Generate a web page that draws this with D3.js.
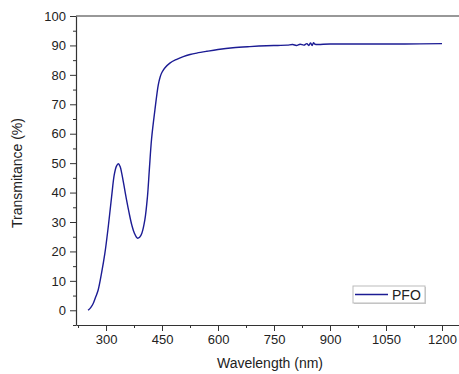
<!DOCTYPE html>
<html>
<head>
<meta charset="utf-8" />
<title>PFO transmittance</title>
<script src="https://d3js.org/d3.v7.min.js"></script>
<style>
  body { margin: 0; background: #fff; }
  svg { display: block; font-family: "Liberation Sans", Arial, sans-serif; }
</style>
</head>
<body>
<svg id="chart" width="459" height="374"></svg>
<script>
// values
var wavelength = [252, 259, 266, 272, 279, 288, 297, 306, 315, 322, 328, 333, 338, 342, 348, 355, 362, 369, 376, 384, 390, 396, 404, 411, 416, 422, 431, 440, 445, 450, 458, 471, 488, 507, 525, 543, 570, 600, 640, 685, 730, 760, 785, 800, 810, 820, 830, 838, 843, 848, 852, 856, 860, 900, 1000, 1100, 1200];
var transmittance = [0, 0.9, 2.4, 4.4, 6.9, 12.6, 19.4, 28.4, 38.6, 46, 49, 49.8, 48.8, 46.6, 42.5, 37.5, 33, 29, 26.2, 24.5, 24.8, 26.2, 30.7, 38.6, 47.7, 58.2, 68.1, 76.6, 79.3, 80.9, 82.4, 84, 85.2, 86.2, 86.9, 87.4, 88, 88.6, 89.2, 89.6, 89.9, 90.0, 90.1, 90.3, 90.0, 90.4, 90.1, 90.6, 90.0, 90.8, 90.0, 90.9, 90.4, 90.5, 90.5, 90.5, 90.6];
var xTicks = [300, 450, 600, 750, 900, 1050, 1200];
var yTicks = [0, 10, 20, 30, 40, 50, 60, 70, 80, 90, 100];
var seriesName = "PFO";

var svg = d3.select("#chart");
var mLeft = 76, mTop = 16, mRight = 459, mBottom = 325;

var x = d3.scaleLinear().domain([219.6, 1245.5]).range([mLeft, mRight]);
var y = d3.scaleLinear().domain([-5, 100]).range([mBottom, mTop]);

var axisColor = "#333";

// minor ticks first, major on top
var xMinor = d3.range(225, 1245, 75).filter(function(d) { return xTicks.indexOf(d) < 0; });
var yMinor = d3.range(-5, 100, 5).filter(function(d) { return yTicks.indexOf(d) < 0; });

svg.append("g")
  .attr("transform", "translate(0," + mBottom + ")")
  .call(d3.axisBottom(x).tickValues(xMinor).tickSize(3).tickFormat(""))
  .call(function(g) { g.select(".domain").remove(); g.selectAll("line").attr("stroke", axisColor); });

svg.append("g")
  .attr("transform", "translate(" + mLeft + ",0)")
  .call(d3.axisLeft(y).tickValues(yMinor).tickSize(3).tickFormat(""))
  .call(function(g) { g.select(".domain").remove(); g.selectAll("line").attr("stroke", axisColor); });

var xAxis = svg.append("g")
  .attr("transform", "translate(0," + mBottom + ")")
  .call(d3.axisBottom(x).tickValues(xTicks).tickFormat(d3.format("d")).tickSize(6).tickPadding(4).tickSizeOuter(0));
xAxis.select(".domain").attr("stroke", axisColor).attr("stroke-width", 1.2);
xAxis.selectAll("line").attr("stroke", axisColor);
xAxis.selectAll("text").attr("font-size", 13).attr("fill", "#222").attr("font-family", null);

var yAxis = svg.append("g")
  .attr("transform", "translate(" + mLeft + ",0)")
  .call(d3.axisLeft(y).tickValues(yTicks).tickSize(6).tickPadding(4).tickSizeOuter(0));
yAxis.select(".domain").attr("stroke", axisColor).attr("stroke-width", 1.2);
yAxis.selectAll("line").attr("stroke", axisColor);
yAxis.selectAll("text").attr("font-size", 13).attr("fill", "#222").attr("font-family", null);

// top frame line
svg.append("line")
  .attr("x1", mLeft).attr("x2", mRight)
  .attr("y1", mTop).attr("y2", mTop)
  .attr("stroke", axisColor).attr("stroke-width", 1.2);

// axis titles
svg.append("text")
  .attr("x", 270).attr("y", 368)
  .attr("text-anchor", "middle")
  .attr("font-size", 14).attr("fill", "#222")
  .text("Wavelength (nm)");

svg.append("text")
  .attr("transform", "translate(22,173) rotate(-90)")
  .attr("text-anchor", "middle")
  .attr("font-size", 14).attr("fill", "#222")
  .text("Transmitance (%)");

// the curve
var pts = wavelength.map(function(w, i) { return [w, transmittance[i]]; });
var line = d3.line()
  .x(function(d) { return x(d[0]); })
  .y(function(d) { return y(d[1]); })
  .curve(d3.curveCatmullRom.alpha(0.5));

svg.append("path")
  .datum(pts)
  .attr("d", line)
  .attr("fill", "none")
  .attr("stroke", "#1c1c94")
  .attr("stroke-width", 1.4);

// legend
var lg = svg.append("g").attr("transform", "translate(353,286)");
lg.append("rect")
  .attr("x", 1).attr("y", 1).attr("width", 72).attr("height", 17)
  .attr("fill", "#ccc");
lg.append("rect")
  .attr("width", 72).attr("height", 17)
  .attr("fill", "#fff").attr("stroke", "#bbb");
lg.append("line")
  .attr("x1", 2).attr("x2", 35).attr("y1", 8.5).attr("y2", 8.5)
  .attr("stroke", "#1c1c94").attr("stroke-width", 1.5);
lg.append("text")
  .attr("x", 39).attr("y", 14)
  .attr("font-size", 14).attr("fill", "#222")
  .text(seriesName);
</script>
</body>
</html>
